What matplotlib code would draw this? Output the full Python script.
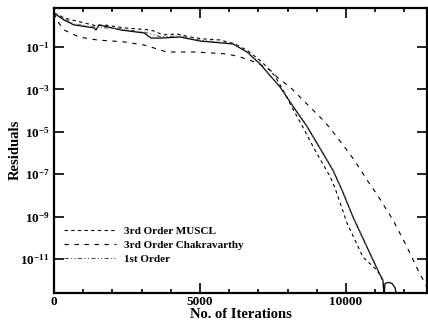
import numpy as np
import matplotlib
matplotlib.use("Agg")
import matplotlib.pyplot as plt
from matplotlib.ticker import FixedLocator, MultipleLocator, FuncFormatter

plt.rcParams['font.family'] = ['Liberation Serif', 'DejaVu Serif']
plt.rcParams['font.weight'] = 'bold'
plt.rcParams['mathtext.fontset'] = 'custom'
plt.rcParams['mathtext.rm'] = 'Liberation Serif:bold'
plt.rcParams['mathtext.bf'] = 'Liberation Serif:bold'
plt.rcParams['mathtext.it'] = 'Liberation Serif:bold'

# ---- data (iterations, log10 of residual) ----
solid_iter = [0, 342, 685, 1370, 1439, 1541, 2295, 3083, 3323, 3665, 4316, 5000,
              6131, 6610, 7056, 7741, 8186, 8665, 9110, 9556, 9864, 10241, 10926, 11268,
              11302, 11337, 11440, 11577, 11680, 11748]
solid_log = [0.60, 0.27, 0.04, -0.10, -0.20, 0.04, -0.20, -0.34, -0.58, -0.58, -0.53, -0.72,
             -0.86, -1.24, -1.80, -2.89, -3.80, -4.75, -5.78, -6.82, -7.75, -9.02, -11.05, -12.03,
             -12.8, -12.15, -12.10, -12.15, -12.35, -12.8]

muscl_iter = [0, 342, 890, 1473, 1712, 2397, 3322, 3733, 4213, 4658, 5103, 5686,
              6200, 6645, 7124, 7570, 7912, 8152, 8494, 8700, 8939, 9179, 9453, 9624,
              10035, 10583, 11063, 11268, 11336]
muscl_log = [0.60, 0.37, 0.18, -0.01, 0.04, -0.10, -0.20, -0.43, -0.39, -0.53, -0.62, -0.67,
             -0.86, -1.19, -1.71, -2.37, -3.20, -3.85, -4.70, -5.25, -5.86, -6.45, -7.10, -7.65,
             -9.30, -10.91, -11.52, -11.99, -12.8]

chak_iter = [0, 137, 342, 856, 1473, 2397, 3083, 3425, 3870, 4829, 5343, 5925,
             6370, 6953, 7398, 7638, 8083, 8528, 8939, 9282, 9556, 9898, 10207,
             10481, 10720, 11063, 11611, 12090, 12467, 12775]
chak_log = [0.60, 0.18, -0.20, -0.53, -0.67, -0.76, -0.91, -1.05, -1.24, -1.24, -1.28, -1.33,
            -1.47, -1.75, -2.08, -2.42, -2.89, -3.50, -4.07, -4.54, -5.01, -5.62, -6.19,
            -6.75, -7.27, -7.95, -9.16, -10.43, -11.52, -12.32]

first_iter = [0, 685, 1370, 2295, 3083, 3665, 4316, 5000, 6131, 6610, 7056, 7741,
              8186, 8665, 9110, 9556, 9864, 10241, 10926, 11268]
first_log = [0.62, 0.08, -0.06, -0.15, -0.30, -0.52, -0.48, -0.68, -0.84, -1.22, -1.78, -2.87,
             -3.78, -4.73, -5.76, -6.80, -7.73, -9.00, -11.02, -12.05]

labels = ["3rd Order MUSCL", "3rd Order Chakravarthy", "1st Order"]
ytick_exps = [-11, -9, -7, -5, -3, -1]
xticks = [0, 5000, 10000]

fig = plt.figure(figsize=(4.28, 3.2), dpi=100)
ax = fig.add_axes([54/428, 27/320, 373/428, 285.5/320])

def p(v):
    return 10.0 ** np.asarray(v)

ax.plot(solid_iter, p(solid_log), color='black', lw=0.9, label='_nolegend_')
ax.plot(muscl_iter, p(muscl_log), color='black', lw=0.8, ls=(0, (3, 3)), label=labels[0])
ax.plot(chak_iter, p(chak_log), color='black', lw=0.8, ls=(0, (4, 5)), label=labels[1])
ax.plot(first_iter, p(first_log), color='#555555', lw=0.8, ls=(0, (4, 2, 1, 2, 1, 2)), label=labels[2])

ax.set_yscale('log')
ax.set_xlim(0, 12775)
ax.set_ylim(10 ** -12.6, 10 ** 0.86)

ax.yaxis.set_major_locator(FixedLocator([10.0 ** e for e in ytick_exps]))
ax.yaxis.set_minor_locator(FixedLocator([]))
ax.yaxis.set_major_formatter(FuncFormatter(lambda v, pos: r'$10^{%d}$' % int(round(np.log10(v)))))
ax.xaxis.set_major_locator(FixedLocator(xticks))
ax.xaxis.set_minor_locator(MultipleLocator(1000))

ax.tick_params(which='both', direction='in', top=True, right=True, width=1.2)
ax.tick_params(axis='y', labelsize=9.5, pad=3)
ax.tick_params(axis='x', labelsize=9.5, pad=2)
ax.tick_params(which='major', length=7)
ax.tick_params(which='minor', length=3)
for s in ax.spines.values():
    s.set_linewidth(1.6)

ax.set_xlabel('No. of Iterations', fontsize=10.5, fontweight='bold', labelpad=0)
ax.set_ylabel('Residuals', fontsize=10.5, fontweight='bold')
ax.yaxis.set_label_coords(-0.086, 0.5)

leg = ax.legend(loc='lower left', bbox_to_anchor=(0.015, 0.085), borderaxespad=0,
                frameon=False, fontsize=8, handlelength=4.7, handletextpad=0.72,
                labelspacing=0.4)

fig.savefig('out.png', dpi=100)
